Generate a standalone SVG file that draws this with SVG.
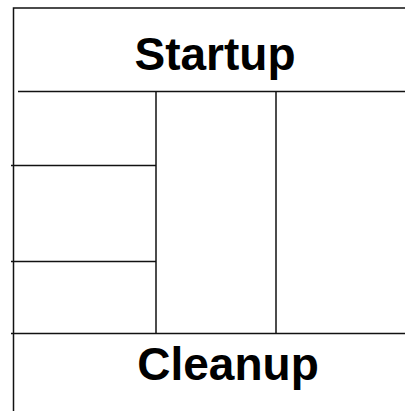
<svg xmlns="http://www.w3.org/2000/svg" width="405" height="411" viewBox="0 0 405 411">
<style>
.ln{stroke:#111;stroke-width:1.5;fill:none}
.t{font-family:"Liberation Sans",Arial,sans-serif;font-weight:bold;font-size:46px;fill:#000}
</style>
<rect width="405" height="411" fill="#fff"/>
<g id="connectors">
<path class="ln" d="M13.5,411 V8 H405"/>
<path class="ln" d="M18,91.5 H405"/>
<path class="ln" d="M11,165.5 H156"/>
<path class="ln" d="M11,261.5 H156"/>
<path class="ln" d="M11,333.5 H405"/>
<path class="ln" d="M156,92 V333"/>
<path class="ln" d="M276,92 V333"/>
</g>
<g id="startup"><text class="t" x="215" y="70" text-anchor="middle">Startup</text></g>
<g id="cleanup"><text class="t" x="228" y="380" text-anchor="middle">Cleanup</text></g>
</svg>
